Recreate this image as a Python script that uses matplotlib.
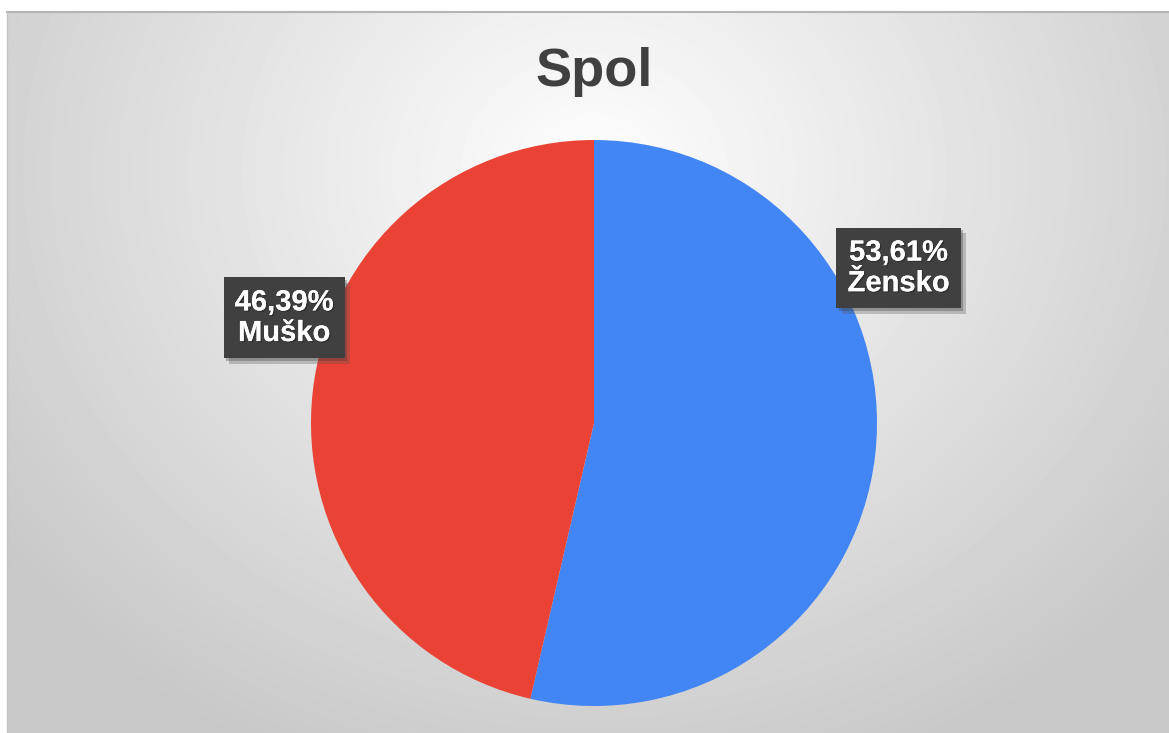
import numpy as np
import matplotlib
matplotlib.use("Agg")
import matplotlib.pyplot as plt
import matplotlib.patheffects as pe

plt.rcParams['font.family'] = ['Liberation Sans', 'DejaVu Sans']

# Data
title = "Spol"
categories = ["Žensko", "Muško"]
shares = [53.61, 46.39]
colors = ["#4285F4", "#EA4335"]

W, H = 1169, 733
fig = plt.figure(figsize=(W / 100, H / 100), dpi=100)
fig.patch.set_facecolor("white")

# Background panel with a soft radial gradient
bg = fig.add_axes([7 / W, 0, 1 - 7 / W, 1 - 12 / H])
yy, xx = np.mgrid[12:H, 7:W]
d = np.sqrt(((xx - 594) / 640.0) ** 2 + ((yy - 170) / 560.0) ** 2)
shade = 0.995 - 0.21 * np.clip(d, 0, 1.15) / 1.15
bg.imshow(shade, cmap="gray", vmin=0, vmax=1, aspect="auto",
          extent=[0, 1, 0, 1], interpolation="bilinear")
bg.set_xlim(0, 1)
bg.set_ylim(0, 1)
bg.axis("off")
# thin frame along top and left edges
fig.add_artist(plt.Line2D([7 / W, 1], [1 - 12 / H, 1 - 12 / H], color="#b4b4b4", lw=1.5))
fig.add_artist(plt.Line2D([7 / W, 7 / W], [0, 1 - 12 / H], color="#c4c4c4", lw=1.0))

fig.text(594 / W, 1 - 72 / H, title, ha="center", va="center",
         fontsize=39, fontweight="bold", color="#404040")

# Pie
r = 283
ax = fig.add_axes([(594 - r) / W, (H - 423 - r) / H, 2 * r / W, 2 * r / H])
ax.pie(shares, colors=colors, startangle=90, counterclock=False,
       wedgeprops=dict(linewidth=0), radius=1.0)
ax.set_xlim(-1, 1)
ax.set_ylim(-1, 1)
ax.set_aspect("equal")
ax.axis("off")

# Data labels in dark boxes, best-fit placement
label_pos = [(1.076, 0.548), (-1.095, 0.372)]
for cat, val, (lx, ly) in zip(categories, shares, label_pos):
    txt = f"{val:.2f}%".replace(".", ",") + "\n" + cat
    t = ax.text(lx, ly, txt, ha="center", va="center", multialignment="center",
                fontsize=21, fontweight="bold", color="white", linespacing=1.12,
                bbox=dict(boxstyle="square,pad=0.38", facecolor="#404040",
                          edgecolor="none"),
                clip_on=False, zorder=5)
    t.set_path_effects([pe.withSimplePatchShadow(offset=(1, -1), shadow_rgbFace="black", alpha=0.25),
                        pe.Normal()])
    t.get_bbox_patch().set_path_effects(
        [pe.withSimplePatchShadow(offset=(4, -4), shadow_rgbFace="#555555", alpha=0.3),
         pe.withSimplePatchShadow(offset=(2, -2), shadow_rgbFace="#333333", alpha=0.3),
         pe.Normal()])

fig.savefig("out.png", dpi=100)
